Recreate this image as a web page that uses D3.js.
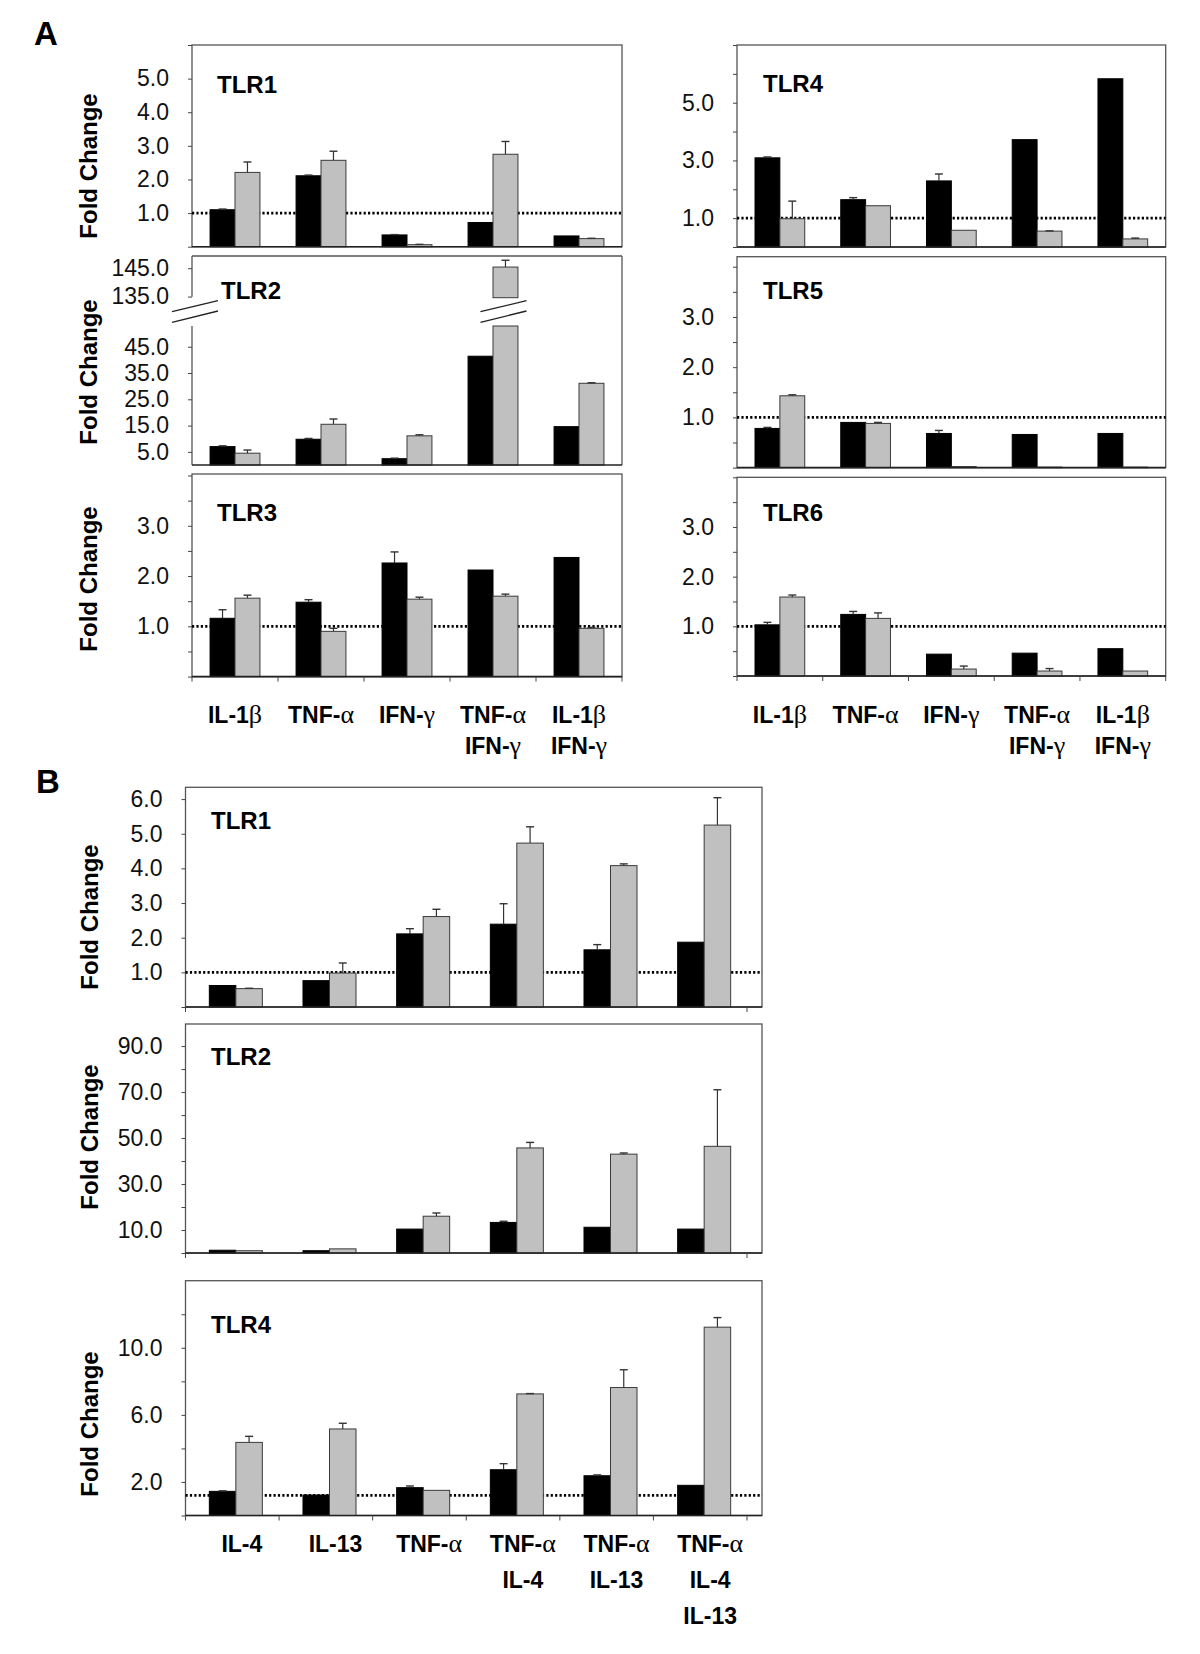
<!DOCTYPE html>
<html><head><meta charset="utf-8">
<script src="https://cdn.jsdelivr.net/npm/d3@7"></script>
<style>body{margin:0;background:#fff}</style>
</head><body>
<script>
// ---------------- data ----------------
const groupsA = ["IL-1β", "TNF-α", "IFN-γ", "TNF-α\nIFN-γ", "IL-1β\nIFN-γ"];
const groupsB = ["IL-4", "IL-13", "TNF-α", "TNF-α\nIL-4", "TNF-α\nIL-13", "TNF-α\nIL-4\nIL-13"];

// Panel A (black = first series, grey = second series); *Err = top of error bar (null = none)
const aTLR1Black    = [1.10, 2.11, 0.35, 0.72, 0.32];
const aTLR1BlackErr = [1.12, 2.13, 0.36, null, null];
const aTLR1Grey     = [2.21, 2.57, 0.06, 2.75, 0.24];
const aTLR1GreyErr  = [2.52, 2.84, 0.07, 3.13, 0.25];

const aTLR2Black    = [7.0, 9.8, 2.4, 41.4, 14.6];
const aTLR2BlackErr = [7.3, 10.1, 2.6, null, null];
const aTLR2Grey     = [4.5, 15.5, 11.1, 145.4, 31.1];
const aTLR2GreyErr  = [5.7, 17.5, 11.5, 147.8, 31.3];

const aTLR3Black    = [1.16, 1.48, 2.26, 2.12, 2.37];
const aTLR3BlackErr = [1.33, 1.53, 2.48, null, null];
const aTLR3Grey     = [1.56, 0.90, 1.54, 1.60, 0.96];
const aTLR3GreyErr  = [1.62, 0.96, 1.58, 1.64, 0.98];

const aTLR4Black    = [3.09, 1.64, 2.29, 3.72, 5.83];
const aTLR4BlackErr = [3.12, 1.71, 2.53, null, null];
const aTLR4Grey     = [0.98, 1.43, 0.58, 0.55, 0.28];
const aTLR4GreyErr  = [1.59, null, null, 0.56, 0.31];

const aTLR5Black    = [0.78, 0.90, 0.68, 0.66, 0.68];
const aTLR5BlackErr = [0.80, null, 0.74, null, null];
const aTLR5Grey     = [1.43, 0.88, 0.02, 0.01, 0.01];
const aTLR5GreyErr  = [1.45, 0.90, null, null, null];

const aTLR6Black    = [1.03, 1.24, 0.44, 0.46, 0.55];
const aTLR6BlackErr = [1.08, 1.30, null, null, null];
const aTLR6Grey     = [1.59, 1.16, 0.14, 0.10, 0.10];
const aTLR6GreyErr  = [1.63, 1.27, 0.20, 0.15, null];

// Panel B
const bTLR1Black    = [0.62, 0.76, 2.11, 2.39, 1.65, 1.87];
const bTLR1BlackErr = [null, null, 2.26, 2.98, 1.80, null];
const bTLR1Grey     = [0.53, 0.98, 2.61, 4.73, 4.08, 5.25];
const bTLR1GreyErr  = [0.54, 1.27, 2.82, 5.20, 4.13, 6.04];

const bTLR2Black    = [1.2, 1.0, 10.4, 13.3, 11.2, 10.4];
const bTLR2BlackErr = [null, null, null, 13.8, null, null];
const bTLR2Grey     = [1.0, 1.8, 16.0, 45.7, 43.0, 46.4];
const bTLR2GreyErr  = [null, null, 17.4, 48.1, 43.5, 71.0];

const bTLR4Black    = [1.44, 1.22, 1.66, 2.73, 2.37, 1.80];
const bTLR4BlackErr = [1.47, null, 1.76, 3.09, 2.42, null];
const bTLR4Grey     = [4.36, 5.16, 1.50, 7.25, 7.63, 11.23];
const bTLR4GreyErr  = [4.72, 5.50, null, 7.27, 8.69, 11.80];

// tick values / labels
const ticksInt6 = [0, 1, 2, 3, 4, 5, 6];
const labels1to5 = [1, 2, 3, 4, 5];
const ticksHalf4 = [0, 0.5, 1, 1.5, 2, 2.5, 3, 3.5, 4];
const labels123 = [1, 2, 3];
const ticksInt7 = [0, 1, 2, 3, 4, 5, 6, 7];
const labelsOdd = [1, 3, 5];
const tlr2LowTicks = [5, 15, 25, 35, 45];
const tlr2HighTicks = [135, 145];
const bTicks1 = [0, 1, 2, 3, 4, 5, 6];
const bLabels1 = [1, 2, 3, 4, 5, 6];
const bTicks2 = [0, 10, 20, 30, 40, 50, 60, 70, 80, 90];
const bLabels2 = [10, 30, 50, 70, 90];
const bTicks4 = [0, 2, 4, 6, 8, 10, 12];
const bLabels4 = [2, 6, 10];

// ---------------- drawing ----------------
const W = 1200, H = 1654;
const SANS = "'Liberation Sans', Arial, Helvetica, sans-serif";
const SERIF = "'Liberation Serif', 'Times New Roman', serif";
const fmt = d3.format(".1f");
const svg = d3.select("body").append("svg").attr("width", W).attr("height", H)
  .style("background", "#fff");

function styleAxis(g) {
  g.select(".domain").remove();
  g.selectAll(".tick line").attr("stroke", "#444").attr("stroke-width", 1);
  g.selectAll(".tick text").attr("font-family", SANS).attr("font-size", 23).attr("fill", "#111");
}

function drawBars(g, x, y, bw, vals, errs, fill, stroke, offset, base) {
  vals.forEach((v, i) => {
    const xl = x(i) + x.bandwidth() / 2 + offset;
    g.append("rect").attr("x", xl).attr("y", y(v)).attr("width", bw)
      .attr("height", Math.max(0.6, base - y(v))).attr("fill", fill)
      .attr("stroke", stroke).attr("stroke-width", 1);
    if (errs[i] != null) {
      const cx = xl + bw / 2;
      g.append("line").attr("x1", cx).attr("x2", cx).attr("y1", y(v)).attr("y2", y(errs[i]))
        .attr("stroke", "#333").attr("stroke-width", 1.2);
      g.append("line").attr("x1", cx - 4).attr("x2", cx + 4).attr("y1", y(errs[i])).attr("y2", y(errs[i]))
        .attr("stroke", "#333").attr("stroke-width", 1.4);
    }
  });
}

function panel(c) {
  const g = svg.append("g");
  const x = d3.scaleBand().domain(d3.range(c.black.length)).range(c.band);
  const bw = x.bandwidth() * c.barFrac;
  const y = d3.scaleLinear().domain([0, c.max]).range([c.bottom, c.top]);
  g.append("rect").attr("x", c.frame[0]).attr("y", c.top).attr("width", c.frame[1] - c.frame[0])
    .attr("height", c.bottom - c.top).attr("fill", "none").attr("stroke", "#555").attr("stroke-width", 1.3);
  if (c.ref != null) {
    g.append("line").attr("x1", c.frame[0]).attr("x2", c.frame[1]).attr("y1", y(c.ref)).attr("y2", y(c.ref))
      .attr("stroke", "#000").attr("stroke-width", 2.6).attr("stroke-dasharray", "2.2,2.2");
  }
  drawBars(g, x, y, bw, c.black, c.blackErr, "#000", "#000", -bw, c.bottom);
  drawBars(g, x, y, bw, c.grey, c.greyErr, "#c0c0c0", "#3a3a3a", 0, c.bottom);
  g.append("line").attr("x1", c.frame[0]).attr("x2", c.frame[1]).attr("y1", c.bottom).attr("y2", c.bottom)
    .attr("stroke", "#222").attr("stroke-width", 1.6);
  const ax = g.append("g").attr("transform", `translate(${c.frame[0]},0)`)
    .call(d3.axisLeft(y).tickValues(c.ticks).tickSize(4).tickPadding(19)
      .tickFormat(v => c.labels.includes(v) ? fmt(v) : ""));
  styleAxis(ax);
  if (c.xTicks) {
    const tx = d3.scaleBand().domain(d3.range(c.black.length)).range(c.tickRange);
    let pos = d3.range(c.black.length).map(i => tx(i)).concat([c.tickRange[1]]);
    if (c.xTicks === "ends") pos = [c.tickRange[0], c.tickRange[1]];
    pos.forEach(p => g.append("line").attr("x1", p).attr("x2", p).attr("y1", c.bottom).attr("y2", c.bottom + 5)
      .attr("stroke", "#444").attr("stroke-width", 1));
  }
  title(c.title, c.titleX, c.titleY);
  return x;
}

function title(t, xx, yy) {
  svg.append("text").attr("x", xx).attr("y", yy).attr("font-family", SANS).attr("font-weight", "bold")
    .attr("font-size", 24).attr("fill", "#000").text(t);
}

function foldChange(xx, yc) {
  svg.append("text").attr("transform", `translate(${xx},${yc}) rotate(-90)`).attr("text-anchor", "middle")
    .attr("font-family", SANS).attr("font-weight", "bold").attr("font-size", 24).attr("fill", "#000")
    .text("Fold Change");
}

function xLabels(groups, x, offset, y0, lineH) {
  groups.forEach((lab, i) => {
    const cx = x(i) + x.bandwidth() / 2 + offset;
    lab.split("\n").forEach((line, j) => {
      const t = svg.append("text").attr("x", cx).attr("y", y0 + j * lineH).attr("text-anchor", "middle")
        .attr("font-family", SANS).attr("font-weight", "bold").attr("font-size", 23).attr("fill", "#000");
      line.split(/([αβγ])/).filter(s => s.length).forEach(seg => {
        const ts = t.append("tspan").text(seg);
        if (/[αβγ]/.test(seg)) ts.attr("font-family", SERIF).attr("font-weight", "normal").attr("font-size", 26);
      });
    });
  });
}

// Panel letters
svg.append("text").attr("x", 34).attr("y", 45).attr("font-family", SANS).attr("font-weight", "bold")
  .attr("font-size", 33).text("A");
svg.append("text").attr("x", 36).attr("y", 793).attr("font-family", SANS).attr("font-weight", "bold")
  .attr("font-size", 33).text("B");

const AL = [192, 622], AR = [737, 1165.7];

// A - TLR1
panel({ black: aTLR1Black, blackErr: aTLR1BlackErr, grey: aTLR1Grey, greyErr: aTLR1GreyErr,
  frame: AL, band: AL, barFrac: 0.29, top: 45, bottom: 246.7, max: 6, ticks: ticksInt6, labels: labels1to5,
  ref: 1, title: "TLR1", titleX: 217, titleY: 93 });
foldChange(97, 166);

// A - TLR2 (broken axis)
(function () {
  const c = { top: 256, bottom: 465, brTop: 297.7, brBot: 326 };
  const g = svg.append("g");
  const x = d3.scaleBand().domain(d3.range(aTLR2Black.length)).range(AL);
  const bw = x.bandwidth() * 0.29;
  const yLow = d3.scaleLinear().domain([0, 52.9]).range([c.bottom, c.brBot]);
  const yHigh = d3.scaleLinear().domain([134.6, 149.3]).range([c.brTop, c.top]);
  const ln = (x1, y1, x2, y2, col, w) => g.append("line").attr("x1", x1).attr("y1", y1).attr("x2", x2).attr("y2", y2)
    .attr("stroke", col).attr("stroke-width", w);
  ln(AL[0], c.top, AL[1], c.top, "#555", 1.3);
  ln(AL[1], c.top, AL[1], c.bottom, "#555", 1.3);
  ln(AL[0], c.top, AL[0], 296.7, "#555", 1.3);
  ln(AL[0], c.brBot, AL[0], c.bottom, "#555", 1.3);
  function series(vals, errs, fill, stroke, offset) {
    vals.forEach((v, i) => {
      const xl = x(i) + x.bandwidth() / 2 + offset;
      const cx = xl + bw / 2;
      if (v <= 52.9) {
        g.append("rect").attr("x", xl).attr("y", yLow(v)).attr("width", bw).attr("height", c.bottom - yLow(v))
          .attr("fill", fill).attr("stroke", stroke).attr("stroke-width", 1);
        if (errs[i] != null) {
          ln(cx, yLow(v), cx, yLow(errs[i]), "#333", 1.2);
          ln(cx - 4, yLow(errs[i]), cx + 4, yLow(errs[i]), "#333", 1.4);
        }
      } else {
        g.append("rect").attr("x", xl).attr("y", c.brBot).attr("width", bw).attr("height", c.bottom - c.brBot)
          .attr("fill", fill).attr("stroke", stroke).attr("stroke-width", 1);
        g.append("rect").attr("x", xl).attr("y", yHigh(v)).attr("width", bw).attr("height", c.brTop - yHigh(v))
          .attr("fill", fill).attr("stroke", stroke).attr("stroke-width", 1);
        if (errs[i] != null) {
          ln(cx, yHigh(v), cx, yHigh(errs[i]), "#333", 1.2);
          ln(cx - 4, yHigh(errs[i]), cx + 4, yHigh(errs[i]), "#333", 1.4);
        }
        ln(cx - 25, 311.7, cx + 21, 300.7, "#222", 1.3);
        ln(cx - 25, 322.3, cx + 21, 311, "#222", 1.3);
      }
    });
  }
  series(aTLR2Black, aTLR2BlackErr, "#000", "#000", -bw);
  series(aTLR2Grey, aTLR2GreyErr, "#c0c0c0", "#3a3a3a", 0);
  ln(AL[0], c.bottom, AL[1], c.bottom, "#222", 1.6);
  // axis break marks
  ln(AL[0] - 20, 311.7, AL[0] + 26, 300.7, "#222", 1.3);
  ln(AL[0] - 20, 322.3, AL[0] + 26, 311, "#222", 1.3);
  const a1 = g.append("g").attr("transform", `translate(${AL[0]},0)`)
    .call(d3.axisLeft(yLow).tickValues(tlr2LowTicks).tickSize(4).tickPadding(19).tickFormat(fmt));
  styleAxis(a1);
  const a2 = g.append("g").attr("transform", `translate(${AL[0]},0)`)
    .call(d3.axisLeft(yHigh).tickValues(tlr2HighTicks).tickSize(4).tickPadding(19).tickFormat(fmt));
  styleAxis(a2);
  title("TLR2", 221, 299);
})();
foldChange(97, 372);

// A - TLR3
const xA3 = panel({ black: aTLR3Black, blackErr: aTLR3BlackErr, grey: aTLR3Grey, greyErr: aTLR3GreyErr,
  frame: AL, band: AL, barFrac: 0.29, top: 474, bottom: 676.6, max: 4.03, ticks: ticksHalf4, labels: labels123,
  ref: 1, title: "TLR3", titleX: 217, titleY: 521, xTicks: "all", tickRange: AL });
foldChange(97, 579);
xLabels(groupsA, xA3, 0, 723, 31);

// A - TLR4
panel({ black: aTLR4Black, blackErr: aTLR4BlackErr, grey: aTLR4Grey, greyErr: aTLR4GreyErr,
  frame: AR, band: AR, barFrac: 0.29, top: 45, bottom: 247, max: 7, ticks: ticksInt7, labels: labelsOdd,
  ref: 1, title: "TLR4", titleX: 763, titleY: 92 });
// A - TLR5
panel({ black: aTLR5Black, blackErr: aTLR5BlackErr, grey: aTLR5Grey, greyErr: aTLR5GreyErr,
  frame: AR, band: AR, barFrac: 0.29, top: 256.7, bottom: 467.6, max: 4.2, ticks: ticksHalf4, labels: labels123,
  ref: 1, title: "TLR5", titleX: 763, titleY: 299 });
// A - TLR6
const xA6 = panel({ black: aTLR6Black, blackErr: aTLR6BlackErr, grey: aTLR6Grey, greyErr: aTLR6GreyErr,
  frame: AR, band: AR, barFrac: 0.29, top: 477.3, bottom: 676, max: 4.0, ticks: ticksHalf4, labels: labels123,
  ref: 1, title: "TLR6", titleX: 763, titleY: 521, xTicks: "all", tickRange: AR });
xLabels(groupsA, xA6, 0, 723, 31);

// B panels
const BF = [185.5, 762], BB = [189, 751], BT = [185.5, 747];
panel({ black: bTLR1Black, blackErr: bTLR1BlackErr, grey: bTLR1Grey, greyErr: bTLR1GreyErr,
  frame: BF, band: BB, barFrac: 0.283, top: 787.3, bottom: 1007, max: 6.34, ticks: bTicks1, labels: bLabels1,
  ref: 1, title: "TLR1", titleX: 211, titleY: 829, xTicks: "ends", tickRange: BT });
foldChange(98, 917);
panel({ black: bTLR2Black, blackErr: bTLR2BlackErr, grey: bTLR2Grey, greyErr: bTLR2GreyErr,
  frame: BF, band: BB, barFrac: 0.283, top: 1024, bottom: 1253, max: 99.6, ticks: bTicks2, labels: bLabels2,
  ref: null, title: "TLR2", titleX: 211, titleY: 1065, xTicks: "ends", tickRange: BT });
foldChange(98, 1137);
const xB4 = panel({ black: bTLR4Black, blackErr: bTLR4BlackErr, grey: bTLR4Grey, greyErr: bTLR4GreyErr,
  frame: BF, band: BB, barFrac: 0.283, top: 1280.7, bottom: 1515.5, max: 14, ticks: bTicks4, labels: bLabels4,
  ref: 1.2, title: "TLR4", titleX: 211, titleY: 1333, xTicks: "all", tickRange: BT });
foldChange(98, 1424);
xLabels(groupsB, xB4, 6, 1552, 36);
</script>
</body></html>
